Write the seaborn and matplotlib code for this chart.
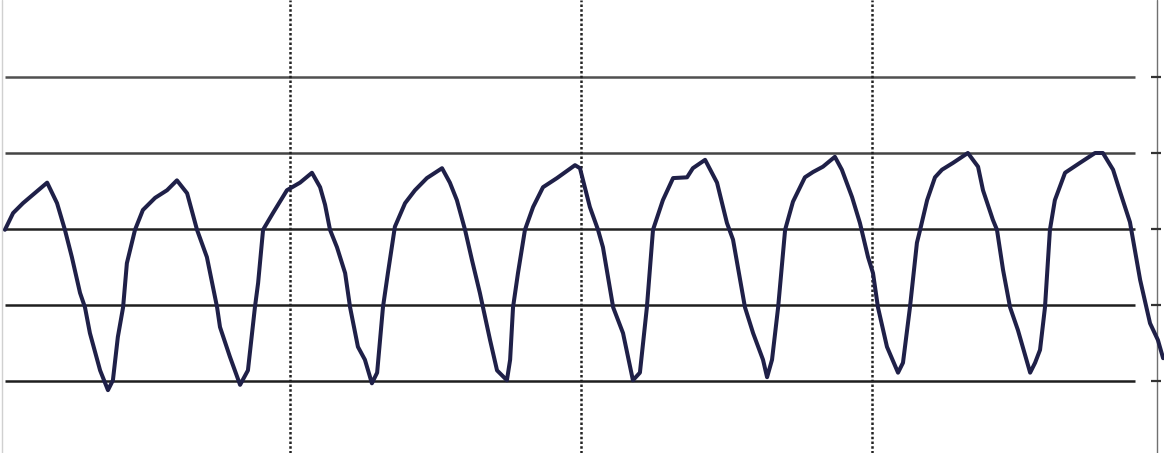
import pandas as pd
import matplotlib.pyplot as plt
import seaborn as sns

# Waveform (time in divisions, amplitude in grid units)
time = [0.017, 0.045, 0.079, 0.113, 0.162, 0.196, 0.223, 0.247, 0.275, 0.292,
        0.309, 0.344, 0.371, 0.388, 0.405, 0.423, 0.436, 0.464, 0.491, 0.533,
        0.574, 0.608, 0.643, 0.677, 0.711, 0.746, 0.756, 0.790, 0.825, 0.852,
        0.876, 0.887, 0.904, 0.938, 0.986, 1.031, 1.072, 1.100, 1.117, 1.134,
        1.158, 1.186, 1.203, 1.230, 1.254, 1.278, 1.296, 1.316, 1.333, 1.357,
        1.392, 1.426, 1.467, 1.519, 1.546, 1.570, 1.598, 1.622, 1.649, 1.684,
        1.708, 1.742, 1.753, 1.763, 1.780, 1.804, 1.832, 1.866, 1.914, 1.976,
        1.993, 2.027, 2.055, 2.072, 2.107, 2.141, 2.175, 2.199, 2.223, 2.244,
        2.278, 2.313, 2.361, 2.381, 2.423, 2.464, 2.498, 2.519, 2.560, 2.588,
        2.622, 2.636, 2.653, 2.674, 2.698, 2.725, 2.766, 2.794, 2.828, 2.869,
        2.893, 2.928, 2.955, 2.983, 3.000, 3.017, 3.048, 3.086, 3.103, 3.127,
        3.151, 3.162, 3.186, 3.213, 3.237, 3.275, 3.326, 3.361, 3.378, 3.412,
        3.426, 3.447, 3.471, 3.498, 3.540, 3.557, 3.574, 3.591, 3.608, 3.625,
        3.660, 3.711, 3.763, 3.790, 3.825, 3.849, 3.883, 3.918, 3.952, 3.979,
        3.997]
signal = [1.99, 2.21, 2.34, 2.45, 2.61, 2.34, 1.99, 1.63, 1.16, 0.97,
          0.63, 0.14, -0.12, 0.01, 0.58, 0.97, 1.55, 1.99, 2.25, 2.41,
          2.51, 2.64, 2.47, 1.99, 1.63, 0.97, 0.71, 0.32, -0.05, 0.14,
          0.97, 1.29, 1.99, 2.21, 2.51, 2.61, 2.74, 2.55, 2.32, 1.99,
          1.76, 1.42, 0.97, 0.45, 0.28, -0.03, 0.11, 0.97, 1.42, 2.03,
          2.34, 2.51, 2.67, 2.80, 2.61, 2.38, 1.99, 1.59, 1.16, 0.54,
          0.14, 0.01, 0.28, 0.97, 1.42, 1.99, 2.29, 2.55, 2.67, 2.84,
          2.80, 2.29, 1.99, 1.76, 0.97, 0.63, 0.01, 0.11, 0.97, 1.99,
          2.38, 2.67, 2.68, 2.80, 2.91, 2.61, 2.08, 1.86, 0.97, 0.63,
          0.28, 0.05, 0.28, 0.97, 1.99, 2.36, 2.68, 2.75, 2.82, 2.95,
          2.78, 2.42, 2.08, 1.63, 1.42, 0.97, 0.45, 0.11, 0.24, 0.97,
          1.82, 1.99, 2.38, 2.68, 2.78, 2.87, 3.00, 2.82, 2.51, 2.12,
          1.99, 1.46, 0.97, 0.67, 0.11, 0.24, 0.41, 0.97, 1.99, 2.38,
          2.74, 2.87, 3.00, 3.00, 2.78, 2.49, 2.09, 1.33, 0.76, 0.54,
          0.30]

h_levels = [0, 1, 2, 3, 4]
v_divs = [1, 2, 3]

df = pd.DataFrame({'time': time, 'signal': signal})

sns.set_style('white')
fig = plt.figure(figsize=(11.64, 4.53), dpi=100)
ax = fig.add_axes([0, 0, 1, 1])

# grid: solid horizontal lines, dotted vertical divisions
h_colors = ['#1e1e1e', '#1e1e1e', '#222222', '#444444', '#505050']
for lvl, c in zip(h_levels, h_colors):
    ax.hlines(lvl, 0.017, 3.90, color=c, lw=1.8, zorder=1)
for d in v_divs:
    ax.axvline(d - 0.003, color='#222222', lw=1.8, ls=(0, (1, 0.9)), zorder=1)

sns.lineplot(data=df, x='time', y='signal', ax=ax, color='#1f2048',
             lw=2.9, estimator=None, sort=False, zorder=3)

# right-hand scale line with small ticks
ax.axvline(3.976, color='#707070', lw=1.0, zorder=1)
for lvl in h_levels:
    ax.hlines(lvl, 3.955, 3.99, color='#333333', lw=1.6, zorder=2)
ax.axvline(0.008, color='#d0d0d0', lw=1.0, zorder=1)

ax.set_xlim(0, 4.0)
ax.set_ylim(-0.947, 5.013)
ax.set_xlabel('')
ax.set_ylabel('')
ax.set_xticks([])
ax.set_yticks([])
for s in ax.spines.values():
    s.set_visible(False)

plt.savefig('out.png', dpi=100)
